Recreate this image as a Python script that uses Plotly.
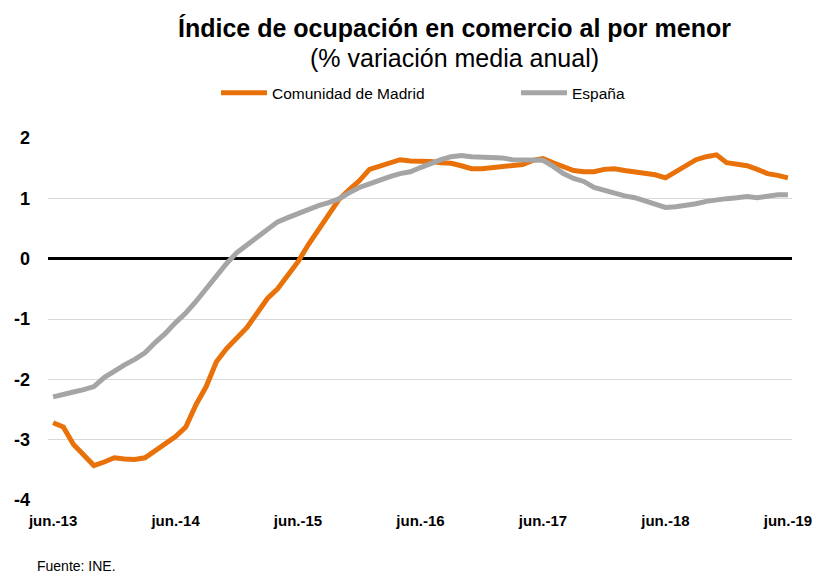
import plotly.graph_objects as go

tick_labels = ["jun.-13", "jun.-14", "jun.-15", "jun.-16", "jun.-17", "jun.-18", "jun.-19"]
months = list(range(73))

madrid = [-2.72, -2.79, -3.08, -3.25, -3.43, -3.37, -3.30, -3.32, -3.33, -3.30,
          -3.18, -3.08, -2.95, -2.79, -2.42, -2.12, -1.71, -1.49, -1.31, -1.14,
          -0.90, -0.66, -0.50, -0.27, -0.05, 0.23, 0.48, 0.75, 0.98, 1.14,
          1.29, 1.48, 1.53, 1.59, 1.64, 1.62, 1.62, 1.61, 1.59, 1.58,
          1.54, 1.49, 1.49, 1.51, 1.54, 1.56, 1.56, 1.63, 1.66, 1.59,
          1.53, 1.46, 1.44, 1.44, 1.48, 1.49, 1.46, 1.44, 1.43, 1.39,
          1.34, 1.44, 1.56, 1.64, 1.69, 1.72, 1.59, 1.56, 1.54, 1.48,
          1.41, 1.38, 1.34]

espana = [-2.29, -2.26, -2.21, -2.17, -2.12, -1.97, -1.86, -1.76, -1.67, -1.56,
          -1.39, -1.24, -1.06, -0.90, -0.71, -0.50, -0.28, -0.08, 0.10, 0.23,
          0.36, 0.50, 0.61, 0.68, 0.75, 0.83, 0.88, 0.93, 0.99, 1.09,
          1.18, 1.24, 1.31, 1.36, 1.41, 1.44, 1.51, 1.58, 1.64, 1.69,
          1.71, 1.69, 1.69, 1.69, 1.67, 1.64, 1.64, 1.63, 1.63, 1.53,
          1.41, 1.33, 1.28, 1.18, 1.13, 1.08, 1.04, 1.01, 0.96, 0.91,
          0.85, 0.86, 0.88, 0.91, 0.95, 0.98, 0.995, 1.01, 1.03, 1.01,
          1.04, 1.06, 1.06]

y_ticks = [-4, -3, -2, -1, 0, 1, 2]
y_tick_labels = ["-4", "-3", "-2", "-1", "0", "1", "2"]

FONT = "Liberation Sans, Arial, Helvetica, sans-serif"

fig = go.Figure()
fig.add_trace(go.Scatter(x=months, y=madrid, mode="lines", name="Comunidad de Madrid",
                         line=dict(color="#E8710A", width=5), legend="legend"))
fig.add_trace(go.Scatter(x=months, y=espana, mode="lines", name="España",
                         line=dict(color="#A5A5A5", width=5), legend="legend2"))

leg_common = dict(orientation="h", xanchor="left", yanchor="middle", y=1.124,
                  font=dict(size=15.5, family=FONT, color="black"),
                  bgcolor="rgba(0,0,0,0)", itemwidth=46)

fig.update_layout(
    width=814, height=574,
    margin=dict(l=48, r=22, t=138, b=74),
    paper_bgcolor="white", plot_bgcolor="white",
    font=dict(family=FONT, color="black"),
    showlegend=True,
    legend=dict(x=(216 - 48) / 744, **leg_common),
    legend2=dict(x=(516 - 48) / 744, **leg_common),
    xaxis=dict(range=[-0.5, 72.4], tickvals=[0, 12, 24, 36, 48, 60, 72], ticktext=tick_labels,
               showgrid=False, zeroline=False, showline=False, ticks="", automargin=False,
               tickfont=dict(size=15, family=FONT, color="black", weight="bold"),
               ticklabelstandoff=10),
    yaxis=dict(range=[-4, 2], tickvals=y_ticks, ticktext=y_tick_labels,
               showgrid=True, gridcolor="#D9D9D9", gridwidth=1,
               zeroline=True, zerolinecolor="black", zerolinewidth=3, showline=False, ticks="",
               automargin=False,
               tickfont=dict(size=18, family=FONT, color="black", weight="bold"),
               ticklabelstandoff=17),
    annotations=[
        dict(text="<b>Índice de ocupación en comercio al por menor</b>", xref="paper", yref="paper",
             x=(455 - 48) / 744, y=(500 - 28) / 362, xanchor="center", yanchor="middle",
             showarrow=False, font=dict(size=25, family=FONT, color="black")),
        dict(text="(% variación media anual)", xref="paper", yref="paper",
             x=(455 - 48) / 744, y=(500 - 58) / 362, xanchor="center", yanchor="middle",
             showarrow=False, font=dict(size=25, family=FONT, color="black")),
        dict(text="Fuente: INE.", xref="paper", yref="paper", x=(35 - 48) / 744, y=(500 - 566) / 362,
             xanchor="left", yanchor="middle", showarrow=False,
             font=dict(size=14, family=FONT, color="black")),
    ],
)

fig.write_html("out.html", config={"displayModeBar": False},
               post_script="document.body.style.margin='0px';")
